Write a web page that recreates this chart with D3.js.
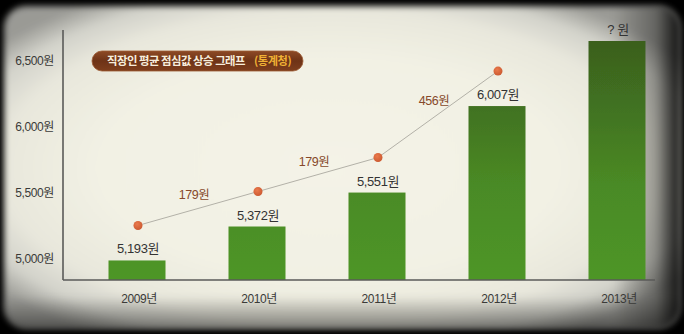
<!DOCTYPE html>
<html>
<head>
<meta charset="utf-8">
<script src="https://cdn.jsdelivr.net/npm/d3@7"></script>
<style>
  html, body { margin: 0; padding: 0; background: #000; }
  svg { display: block; }
  text { font-family: "Liberation Sans", "Noto Sans CJK KR", sans-serif; }
</style>
</head>
<body>
<svg id="chart" width="684" height="334"></svg>
<script>
// Average office-worker lunch price by year (KRW); 2013 is still unknown
const years = ["2009년", "2010년", "2011년", "2012년", "2013년"];
const prices = [5193, 5372, 5551, 6007, 6350];
const priceLabels = ["5,193원", "5,372원", "5,551원", "6,007원", "? 원"];
// Years with a published figure, joined by the trend line
const trendYears = ["2009년", "2010년", "2011년", "2012년"];
const trendPrices = [5193, 5372, 5551, 6007];
// Price axis tick values
const tickValues = [5000, 5500, 6000, 6500];
const titleMain = "직장인 평균 점심값 상승 그래프";
const titleSource = "(통계청)";

const W = 684, H = 334;
const svg = d3.select("#chart");
const defs = svg.append("defs");

// ---- paper background with dark vignette frame ----
const paper = defs.append("radialGradient").attr("id", "paper")
  .attr("cx", "48%").attr("cy", "50%").attr("r", "62%");
[[0, "#f4f3e7"], [0.55, "#f2f1e4"], [0.78, "#e8e7dc"], [0.9, "#d2d2ca"], [1, "#9a9a95"]]
  .forEach(([o, c]) => paper.append("stop").attr("offset", o).attr("stop-color", c));

const rightShade = defs.append("linearGradient").attr("id", "rightShade")
  .attr("x1", 0).attr("x2", 1).attr("y1", 0).attr("y2", 0);
[[0, "rgba(0,0,0,0)"], [0.9, "rgba(0,0,0,0)"], [0.965, "rgba(0,0,0,0.35)"], [1, "rgba(0,0,0,0.9)"]]
  .forEach(([o, c]) => rightShade.append("stop").attr("offset", o).attr("stop-color", c));

const bottomShade = defs.append("linearGradient").attr("id", "bottomShade")
  .attr("x1", 0).attr("x2", 0).attr("y1", 0).attr("y2", 1);
[[0, "rgba(0,0,0,0)"], [0.9, "rgba(0,0,0,0)"], [1, "rgba(0,0,0,0.45)"]]
  .forEach(([o, c]) => bottomShade.append("stop").attr("offset", o).attr("stop-color", c));

defs.append("filter").attr("id", "soft").attr("x", "-5%").attr("y", "-5%")
  .attr("width", "110%").attr("height", "110%")
  .append("feGaussianBlur").attr("stdDeviation", 3);

svg.append("rect").attr("width", W).attr("height", H).attr("fill", "#000");
svg.append("rect").attr("x", 4).attr("y", 6).attr("width", 676).attr("height", 322)
  .attr("rx", 22).attr("fill", "url(#paper)").attr("filter", "url(#soft)");
svg.append("rect").attr("x", 4).attr("y", 6).attr("width", 676).attr("height", 322)
  .attr("rx", 22).attr("fill", "url(#rightShade)").attr("filter", "url(#soft)");
svg.append("rect").attr("x", 4).attr("y", 6).attr("width", 676).attr("height", 322)
  .attr("rx", 22).attr("fill", "url(#bottomShade)").attr("filter", "url(#soft)");

// ---- scales ----
const axisX = 63, baseY = 280;
const x = d3.scaleBand().domain(years).range([77, 677])
  .paddingInner(0.525).paddingOuter(0.2625);
// bar heights are exaggerated relative to the printed price ticks
const yBar = d3.scaleLinear().domain([5090, 6350]).range([baseY, 41]);
const yTick = d3.scaleLinear().domain([5000, 6500]).range([259, 61]);
const trendLift = 35;

// ---- bars ----
const barGrad = defs.append("linearGradient").attr("id", "barGrad")
  .attr("gradientUnits", "userSpaceOnUse")
  .attr("x1", 0).attr("x2", 0).attr("y1", 40).attr("y2", baseY);
[[0, "#3a5f1e"], [0.35, "#437721"], [0.6, "#4a8a25"], [1, "#4e9627"]]
  .forEach(([o, c]) => barGrad.append("stop").attr("offset", o).attr("stop-color", c));
defs.append("filter").attr("id", "barSoft")
  .append("feGaussianBlur").attr("stdDeviation", 0.5);

svg.append("g").selectAll("rect").data(years).join("rect")
  .attr("x", d => x(d))
  .attr("y", (d, i) => yBar(prices[i]))
  .attr("width", x.bandwidth())
  .attr("height", (d, i) => baseY - yBar(prices[i]))
  .attr("fill", "url(#barGrad)")
  .attr("filter", "url(#barSoft)");

// ---- axes ----
svg.append("line").attr("x1", axisX).attr("x2", axisX).attr("y1", 30).attr("y2", baseY)
  .attr("stroke", "#5a5a58").attr("stroke-width", 1.6);
svg.append("line").attr("x1", axisX).attr("x2", 655).attr("y1", baseY).attr("y2", baseY)
  .attr("stroke", "#5a5a58").attr("stroke-width", 1.6);

const yAxis = svg.append("g").attr("transform", `translate(${axisX},0)`)
  .call(d3.axisLeft(yTick).tickValues(tickValues)
    .tickFormat(d => d3.format(",")(d) + "원").tickSize(0).tickPadding(9));
yAxis.select(".domain").remove();
yAxis.selectAll("text").attr("font-size", 12).attr("fill", "#3a3a38")
  .attr("letter-spacing", -0.4).style("font-family", null);

const xAxis = svg.append("g").attr("transform", `translate(0,${baseY})`)
  .call(d3.axisBottom(x).tickSize(0).tickPadding(14));
xAxis.select(".domain").remove();
xAxis.selectAll("text").attr("font-size", 12).attr("fill", "#3a3a38")
  .attr("letter-spacing", -0.4).attr("dx", 2).style("font-family", null);

// ---- value labels above bars ----
svg.append("g").selectAll("text").data(years).join("text")
  .attr("x", d => x(d) + x.bandwidth() / 2 + 1)
  .attr("y", (d, i) => yBar(prices[i]) - 7)
  .attr("text-anchor", "middle")
  .attr("font-size", 13).attr("letter-spacing", -0.4)
  .attr("fill", "#333")
  .text((d, i) => priceLabels[i]);

// ---- trend line with dots ----
const cx = d => x(d) + x.bandwidth() / 2 + 1;
const cy = i => yBar(trendPrices[i]) - trendLift;
svg.append("path")
  .attr("d", d3.line().x(d => cx(d)).y((d, i) => cy(i))(trendYears))
  .attr("fill", "none").attr("stroke", "#b3b1a8").attr("stroke-width", 1);

const dotGrad = defs.append("radialGradient").attr("id", "dotGrad")
  .attr("cx", "40%").attr("cy", "35%").attr("r", "65%");
dotGrad.append("stop").attr("offset", 0).attr("stop-color", "#ea7a4c");
dotGrad.append("stop").attr("offset", 1).attr("stop-color", "#cc5a31");
svg.append("g").selectAll("circle").data(trendYears).join("circle")
  .attr("cx", d => cx(d)).attr("cy", (d, i) => cy(i)).attr("r", 4.5)
  .attr("fill", "url(#dotGrad)");

// increase between consecutive years, written above each segment
svg.append("g").selectAll("text").data(d3.pairs(d3.range(trendYears.length))).join("text")
  .attr("x", ([a, b]) => (cx(trendYears[a]) + cx(trendYears[b])) / 2 - 4)
  .attr("y", ([a, b]) => (cy(a) + cy(b)) / 2 - 9)
  .attr("text-anchor", "middle")
  .attr("font-size", 12.5).attr("letter-spacing", -0.5)
  .attr("fill", "#86492a")
  .text(([a, b]) => d3.format(",")(trendPrices[b] - trendPrices[a]) + "원");

// ---- title pill ----
const pillGrad = defs.append("linearGradient").attr("id", "pillGrad")
  .attr("x1", 0).attr("x2", 0).attr("y1", 0).attr("y2", 1);
[[0, "#8d4a26"], [0.5, "#6e3317"], [1, "#7e3e1d"]]
  .forEach(([o, c]) => pillGrad.append("stop").attr("offset", o).attr("stop-color", c));
const title = svg.append("g");
title.append("rect").attr("x", 92).attr("y", 51).attr("width", 211).attr("height", 20)
  .attr("rx", 10).attr("fill", "url(#pillGrad)").attr("stroke", "#9c5a33").attr("stroke-width", 0.8);
title.append("text").attr("x", 107).attr("y", 65.3)
  .attr("font-size", 11.4).attr("font-weight", 700).attr("letter-spacing", -0.5)
  .attr("fill", "#f7eddc").style("font-family", "'Noto Sans CJK KR'")
  .text(titleMain);
title.append("text").attr("x", 254).attr("y", 65.3)
  .attr("font-size", 11.2).attr("font-weight", 700).attr("letter-spacing", -0.4)
  .attr("fill", "#f0b135").style("font-family", "'Noto Sans CJK KR'")
  .text(titleSource);
</script>
</body>
</html>
